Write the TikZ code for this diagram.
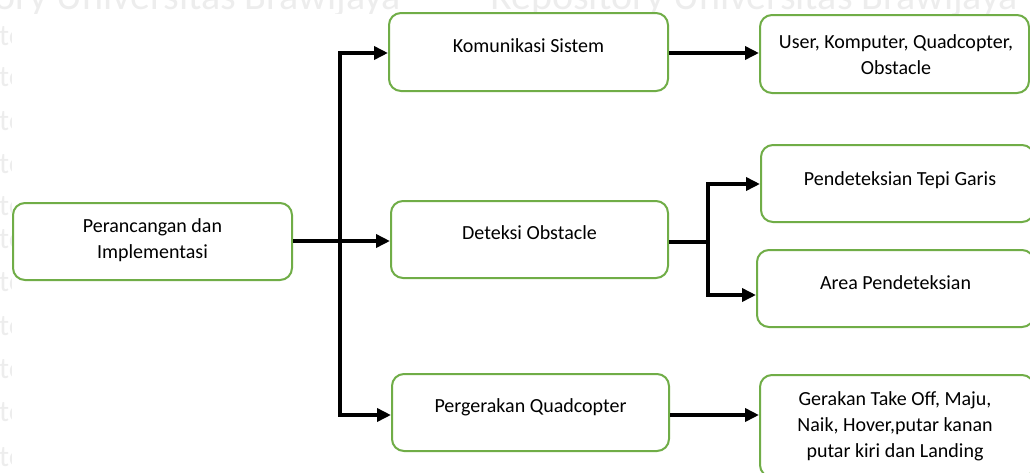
\documentclass[tikz,border=0pt]{standalone}
\usepackage{fontspec}
\setmainfont{Carlito}
\usetikzlibrary{arrows.meta}
\definecolor{boxgreen}{HTML}{70AD47}
\definecolor{wmgray}{HTML}{EDEDED}

\begin{document}
\begin{tikzpicture}[x=1pt,y=-1pt,
  box/.style={draw=boxgreen, line width=2pt, rounded corners=12pt, fill=white, inner sep=0pt},
  lbl/.style={font=\fontsize{20}{26}\selectfont, align=center, inner sep=0pt},
  wmark/.style={text=wmgray, inner sep=0pt, anchor=base west},
  ln/.style={line width=4pt, line join=miter},
  arr/.style={ln, -{Triangle[length=14pt,width=13pt]}},
  arrtwo/.style={ln, {Triangle[length=14pt,width=13pt]}-{Triangle[length=14pt,width=13pt]}}
]
\useasboundingbox (0,0) rectangle (1030,472);
\begin{scope}
\clip (0,0) rectangle (1030,472);

% faint background watermark
\node[wmark, font=\fontsize{40}{40}\selectfont] (wtop1) at (-6,9) {ory Universitas Brawijaya};
\node[wmark, font=\fontsize{40}{40}\selectfont] (wtop2) at (490,9) {Repository Universitas Brawijaya};
\foreach \yy [count=\i] in {37,78,122,165,207,240,283,327,370,413,458}
  \node[wmark, font=\fontsize{30}{30}\selectfont] (wl\i) at (-1,\yy+8) {to};
\fill[white] (12,14) rectangle (1030,472);

% boxes
\node[box, minimum width=279pt, minimum height=77pt] (A) at (152.5,241.5) {};
\node[box, minimum width=279pt, minimum height=78pt] (B) at (528.5,52) {};
\node[box, minimum width=277pt, minimum height=77pt] (C) at (529.5,239.5) {};
\node[box, minimum width=277pt, minimum height=77pt] (D) at (530.5,412.5) {};
\node[box, minimum width=269pt, minimum height=78pt] (E) at (894.5,54) {};
\node[box, minimum width=273pt, minimum height=77pt] (F) at (897.5,183.5) {};
\node[box, minimum width=277pt, minimum height=77pt] (G) at (895.5,288.5) {};
\node[box, minimum width=274pt, minimum height=102pt] (H) at (897,426) {};

% labels
\node[lbl] (At) at (152.5,240) {Perancangan dan\\Implementasi};
\node[lbl] (Bt) at (528.5,46) {Komunikasi Sistem};
\node[lbl] (Ct) at (529.5,233) {Deteksi Obstacle};
\node[lbl] (Dt) at (530.5,407) {Pergerakan Quadcopter};
\node[lbl] (Et) at (896,55) {User, Komputer, Quadcopter,\\Obstacle};
\node[lbl] (Ft) at (900,180) {Pendeteksian Tepi Garis};
\node[lbl] (Gt) at (895.5,283) {Area Pendeteksian};
\node[lbl] (Ht) at (895,426) {Gerakan Take Off, Maju,\\Naik, Hover,putar kanan\\putar kiri dan Landing};

% junction points
\coordinate (jt) at (340,53);
\coordinate (jm) at (340,241);
\coordinate (jb) at (340,415);
\coordinate (kt) at (708,184);
\coordinate (km) at (708,242);
\coordinate (kb) at (708,295);
\coordinate (be) at (668,53);
\coordinate (de) at (669,415);

% connectors
\draw[arr] (A.east |- jm) -- (C.west |- jm);
\draw[arrtwo] (B.west |- jt) -- (jt) -- (jb) -- (D.west |- jb);
\draw[arr] (B.east |- be) -- (E.west |- be);
\draw[ln] (C.east |- km) -- (km);
\draw[arrtwo] (F.west |- kt) -- (kt) -- (kb) -- (G.west |- kb);
\draw[arr] (D.east |- de) -- (H.west |- de);
\end{scope}
\end{tikzpicture}
\end{document}
